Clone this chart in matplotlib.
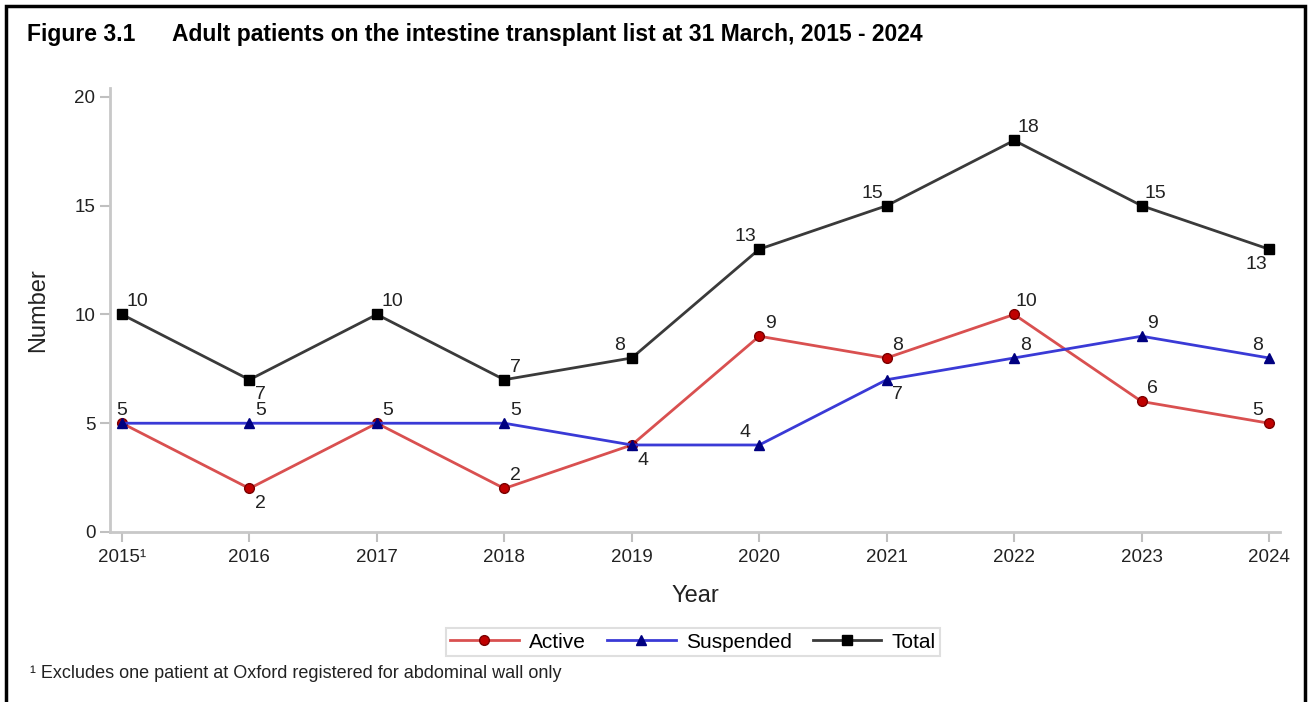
import matplotlib
matplotlib.use("Agg")
import matplotlib.pyplot as plt
from matplotlib.patches import Rectangle

plt.rcParams['font.family'] = ['Liberation Sans', 'DejaVu Sans']

years = [2015, 2016, 2017, 2018, 2019, 2020, 2021, 2022, 2023, 2024]
year_labels = ["2015\u00b9", "2016", "2017", "2018", "2019", "2020", "2021", "2022", "2023", "2024"]
active = [5, 2, 5, 2, 4, 9, 8, 10, 6, 5]
suspended = [5, 5, 5, 5, 4, 4, 7, 8, 9, 8]
total = [10, 7, 10, 7, 8, 13, 15, 18, 15, 13]

# label offsets in points (dx, dy); None = no label (overlaps another series)
active_off = [(0, 9), (8, -11), (8, 9), (8, 9), (8, -11), (8, 9), (8, 9), (9, 9), (8, 9), (-8, 9)]
susp_off = [None, (8, 9), None, (8, 9), None, (-10, 9), (8, -11), (8, 9), (8, 9), (-8, 9)]
total_off = [(11, 9), (8, -11), (11, 9), (8, 9), (-9, 9), (-10, 9), (-10, 9), (10, 9), (10, 9), (-9, -11)]


def label_points(ax, xs, ys, offsets):
    for x, y, off in zip(xs, ys, offsets):
        if off is None:
            continue
        ax.annotate(str(y), (x, y), xytext=off, textcoords="offset points",
                    ha="center", va="center", fontsize=14, color="#222222")


fig = plt.figure(figsize=(13.09, 7.02), dpi=100)
ax = fig.add_axes([110 / 1309, 1 - 532 / 702, 1170 / 1309, 444 / 702])

ax.plot(years, active, color="#d95050", lw=2, marker="o", ms=7,
        mfc="#c00000", mec="#7a0000", label="Active", zorder=3)
ax.plot(years, suspended, color="#3a3ad6", lw=2, marker="^", ms=7,
        mfc="#000080", mec="#000080", label="Suspended", zorder=3)
ax.plot(years, total, color="#3a3a3a", lw=2, marker="s", ms=6.5,
        mfc="black", mec="black", label="Total", zorder=3)

label_points(ax, years, active, active_off)
label_points(ax, years, suspended, susp_off)
label_points(ax, years, total, total_off)

ax.set_xlim(2015 - 0.094, 2024 + 0.086)
ax.set_ylim(0, 20.41)
ax.set_xticks(years)
ax.set_xticklabels(year_labels)
ax.set_yticks([0, 5, 10, 15, 20])
ax.tick_params(colors="#c0c0c0", labelcolor="#222222", labelsize=13.5, length=7, width=1.5)
ax.tick_params(axis="x", pad=5)
for s in ["top", "right"]:
    ax.spines[s].set_visible(False)
for s in ["left", "bottom"]:
    ax.spines[s].set_color("#c8c8c8")
    ax.spines[s].set_linewidth(2)

ax.set_xlabel("Year", fontsize=17, color="#222222", labelpad=14)
ax.set_ylabel("Number", fontsize=17, color="#222222", labelpad=18)

leg = fig.legend(loc="center", bbox_to_anchor=(693 / 1309, 1 - 642 / 702), ncol=3,
                 fontsize=15, frameon=True, fancybox=False, handlelength=3.3,
                 columnspacing=1.0, handletextpad=0.5, borderpad=0.2)
leg.get_frame().set_edgecolor("#d8d8d8")
leg.get_frame().set_linewidth(1.5)

fig.text(27 / 1309, 1 - 35 / 702, "Figure 3.1", fontsize=16.5, fontweight="bold",
         va="center", ha="left")
fig.text(172 / 1309, 1 - 35 / 702, "Adult patients on the intestine transplant list at 31 March, 2015 - 2024",
         fontsize=16.5, fontweight="bold", va="center", ha="left")
fig.text(30 / 1309, 1 - 673 / 702, "\u00b9 Excludes one patient at Oxford registered for abdominal wall only",
         fontsize=13, va="center", ha="left", color="#222222")

fig.patches.append(Rectangle((6 / 1309, -0.01), 1299 / 1309, 1 - 6 / 702 + 0.01,
                             transform=fig.transFigure, fill=False, edgecolor="black", lw=2.5))

fig.savefig("out.png", dpi=100)
